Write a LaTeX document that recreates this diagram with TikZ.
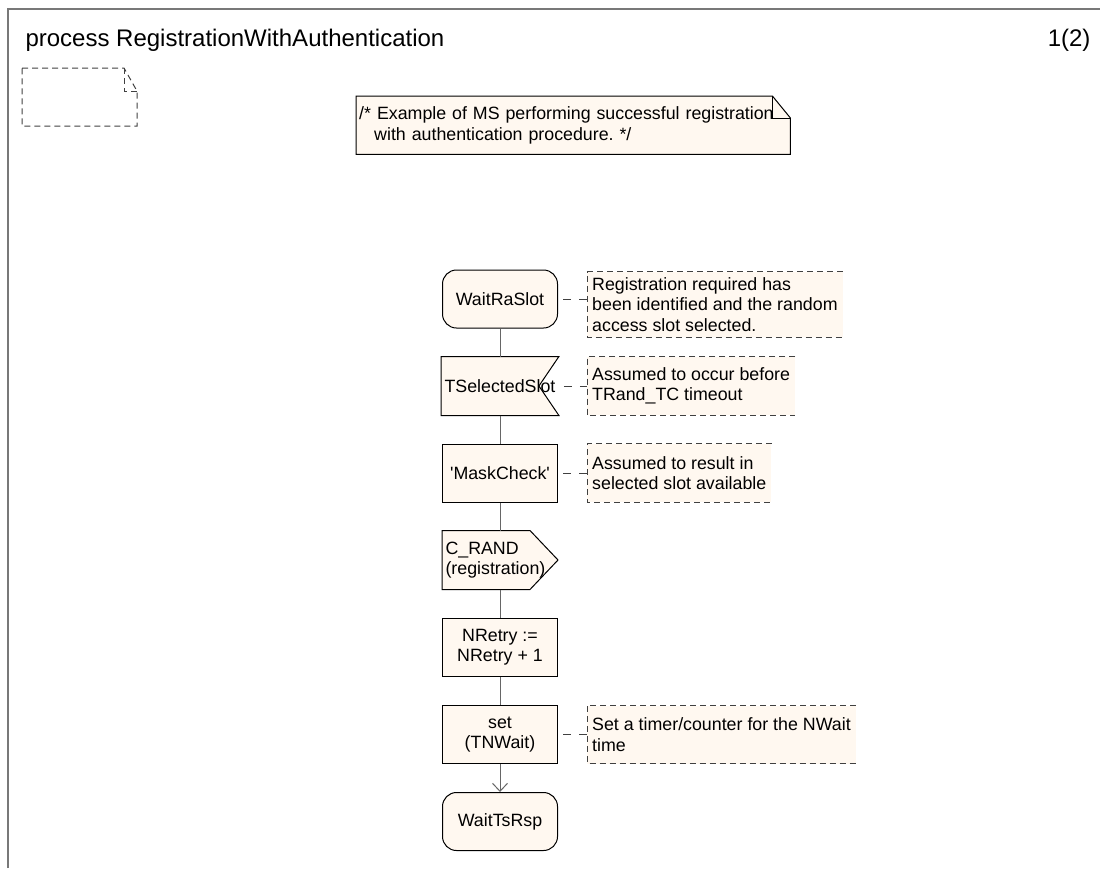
\documentclass[tikz,border=0pt]{standalone}
\usepackage{fontspec}
\setmainfont{Liberation Sans}
\usetikzlibrary{arrows.meta,backgrounds}
\definecolor{sdlfill}{RGB}{255,248,240}
\definecolor{framegray}{RGB}{120,120,120}
\frenchspacing

\begin{document}
\begin{tikzpicture}[x=1pt,y=-1pt,
	every node/.style={font=\fontsize{17.8}{20.5}\selectfont},
	sdlbox/.style={minimum width=115pt,minimum height=58pt,inner sep=3pt,align=center,line width=1pt},
	statebox/.style={sdlbox,draw,fill=sdlfill,rounded corners=14pt},
	taskbox/.style={sdlbox,draw,fill=sdlfill},
	remark/.style={fill=sdlfill,inner xsep=5pt,inner ysep=5.5pt,minimum height=58pt,align=left,anchor=west},
	remarkline/.style={line width=1pt,dash pattern=on 6pt off 4pt,color=black!75},
	remarklink/.style={line width=1pt,dash pattern=on 8pt off 8pt,dash phase=11pt,color=black!75},
	flowline/.style={line width=1pt,color=black!60}]
			%%%%% FRAME %%%%%
			\useasboundingbox (0,0) rectangle (1100,868);
			\draw[framegray,line width=2pt] (8,868) -- (8,9) -- (1100,9);
			
			\node[anchor=base west,font=\fontsize{24}{28}\selectfont] (title) at (22,46) {process RegistrationWithAuthentication};
			\node[anchor=base east,font=\fontsize{24}{28}\selectfont] (page) at (1094,46) {1(2)};
			
			\draw[remarkline] (22,68) -- (124,68) -- (137,91) -- (137,126) -- (22,126) -- cycle;
			\draw[remarkline] (124,68) -- (124,91) -- (137,91);
			
			\node[anchor=north west,inner sep=3pt,minimum width=434pt,minimum height=58pt,text width=428pt,align=left] (note) at (356,96)
				{/* Example of MS performing successful registration\\\hspace*{15pt}with authentication procedure. */};
			
			%%%%% FLOW %%%%%
			\node[statebox] (raslot) at (500,299) {WaitRaSlot};
			\node[sdlbox] (selslot) at (500,386) {TSelectedSlot};
			\node[taskbox] (mask) at (500,473) {\textquotesingle MaskCheck\textquotesingle};
			\node[sdlbox,text width=109pt,align=left] (crand) at (500,560) {C\_RAND\\(registration)};
			\node[taskbox] (retry) at (500,647) {NRetry :=\\NRetry + 1};
			\node[taskbox] (setwait) at (500,734.5) {set\\(TNWait)};
			\node[statebox] (tsrsp) at (500,821.5) {WaitTsRsp};
			
			\begin{scope}[on background layer]
			\draw[line width=1pt,fill=sdlfill] (note.north west) -- ([xshift=-18pt]note.north east) -- ([yshift=-22pt]note.north east) -- (note.south east) -- (note.south west) -- cycle;
			\draw[line width=1pt] ([xshift=-18pt]note.north east) -- ([xshift=-18pt,yshift=-22pt]note.north east) -- ([yshift=-22pt]note.north east);
			\draw[line width=1pt,fill=sdlfill] (selslot.north west) -- (selslot.north east) -- ([xshift=-20pt]selslot.east) -- (selslot.south east) -- (selslot.south west) -- cycle;
			\draw[line width=1pt,fill=sdlfill] (crand.north west) -- ([xshift=-28pt]crand.north east) -- (crand.east) -- ([xshift=-28pt]crand.south east) -- (crand.south west) -- cycle;
			\end{scope}
			
			\draw[flowline] (raslot.south) -- (selslot.north);
			\draw[flowline] (selslot.south) -- (mask.north);
			\draw[flowline] (mask.south) -- (crand.north);
			\draw[flowline] (crand.south) -- (retry.north);
			\draw[flowline] (retry.south) -- (setwait.north);
			\draw[flowline,-{Straight Barb[length=8pt,width=15pt]}] (setwait.south) -- (tsrsp.north);
			
			%%%%% REMARKS %%%%%
			\node[remark] (rem1) at (587,304.5) {Registration required has\\been identified and the random\\access slot selected.};
			\node[remark] (rem2) at (587,386) {Assumed to occur before\\TRand\_TC timeout};
			\node[remark] (rem3) at (587,473) {Assumed to result in\\selected slot available};
			\node[remark] (rem4) at (587,734.5) {Set a timer/counter for the NWait\\time};
			
			\foreach \r in {rem1,rem2,rem3,rem4}
				\draw[remarkline] (\r.north east) -- (\r.north west) -- (\r.south west) -- (\r.south east);
			
			\draw[remarklink] (raslot.east) -- (raslot.east -| rem1.west);
			\draw[remarklink] (selslot.east) -- (rem2.west);
			\draw[remarklink] (mask.east) -- (rem3.west);
			\draw[remarklink] (setwait.east) -- (rem4.west);
			
			%%%%% END %%%%%
		\end{tikzpicture}
\end{document}
